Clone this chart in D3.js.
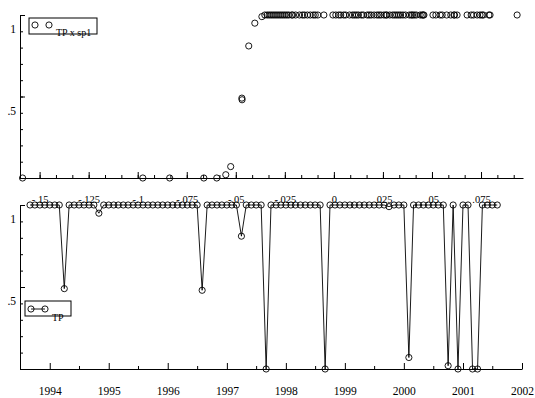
<!DOCTYPE html>
<html>
<head>
<meta charset="utf-8">
<script src="https://cdn.jsdelivr.net/npm/d3@7"></script>
<style>
  body { margin: 0; background: #fff; }
  text { font-family: "Liberation Serif", "Times New Roman", serif; fill: #000; }
</style>
</head>
<body>
<div id="chart"></div>
<script>
// monthly observations
const months = [
  "1993-09","1993-10","1993-11","1993-12",
  "1994-01","1994-02","1994-03","1994-04","1994-05","1994-06","1994-07","1994-08","1994-09","1994-10","1994-11","1994-12",
  "1995-01","1995-02","1995-03","1995-04","1995-05","1995-06","1995-07","1995-08","1995-09","1995-10","1995-11","1995-12",
  "1996-01","1996-02","1996-03","1996-04","1996-05","1996-06","1996-07","1996-08","1996-09","1996-10","1996-11","1996-12",
  "1997-01","1997-02","1997-03","1997-04","1997-05","1997-06","1997-07","1997-08","1997-09","1997-10","1997-11","1997-12",
  "1998-01","1998-02","1998-03","1998-04","1998-05","1998-06","1998-07","1998-08","1998-09","1998-10","1998-11","1998-12",
  "1999-01","1999-02","1999-03","1999-04","1999-05","1999-06","1999-07","1999-08","1999-09","1999-10","1999-11","1999-12",
  "2000-01","2000-02","2000-03","2000-04","2000-05","2000-06","2000-07","2000-08","2000-09","2000-10","2000-11","2000-12",
  "2001-01","2001-02","2001-03","2001-04","2001-05","2001-06","2001-07","2001-08"
];
const tp = [
  1, 1, 1, 1,
  1, 1, 1, 0.49, 1, 1, 1, 1, 1, 1, 0.95, 1,
  1, 1, 1, 1, 1, 1, 1, 1, 1, 1, 1, 1,
  1, 1, 1, 1, 1, 1, 1, 0.48, 1, 1, 1, 1,
  1, 1, 1, 0.81, 1, 1, 1, 1, 0, 1, 1, 1,
  1, 1, 1, 1, 1, 1, 1, 1, 0, 1, 1, 1,
  1, 1, 1, 1, 1, 1, 1, 1, 1, 0.99, 1, 1,
  1, 0.07, 1, 1, 1, 1, 1, 1, 1, 0.02, 1, 0,
  1, 1, 0, 0, 1, 1, 1, 1
];
const sp1 = [
  0.0934, 0.0790, 0.0745, 0.0712,
  0.0628, 0.0541, 0.0310, -0.0469, 0.0105, 0.0220, 0.0352, 0.0459, 0.0420, 0.0190, -0.0403, -0.0051,
  0.0080, 0.0270, 0.0401, 0.0505, 0.0596, 0.0679, 0.0730, 0.0796, 0.0762, 0.0612, 0.0552, 0.0440,
  0.0330, 0.0150, 0.0035, -0.0082, -0.0150, -0.0230, -0.0310, -0.0468, -0.0270, -0.0195, -0.0120, 0.0010,
  0.0125, 0.0060, -0.0105, -0.0434, -0.0352, -0.0290, -0.0330, -0.0250, -0.0974, -0.0340, -0.0210, -0.0175,
  -0.0135, -0.0095, 0.0170, 0.0240, 0.0285, 0.0050, -0.0215, -0.0300, -0.1587, -0.0320, -0.0260, -0.0160,
  -0.0005, 0.0095, 0.0205, 0.0255, 0.0300, 0.0365, 0.0385, 0.0410, 0.0340, -0.0367, 0.0230, 0.0140,
  -0.0240, -0.0526, -0.0280, 0.0025, 0.0115, 0.0320, 0.0450, 0.0520, 0.0575, -0.0551, 0.0615, -0.0837,
  0.0700, 0.0755, -0.0663, -0.0597, 0.0455, 0.0395, 0.0265, 0.0180
];

const spreadTicks = [-0.15, -0.125, -0.1, -0.075, -0.05, -0.025, 0, 0.025, 0.05, 0.075];
const spreadLabels = ["-.15", "-.125", "-.1", "-.075", "-.05", "-.025", "0", ".025", ".05", ".075"];
const yearTicks = [1994, 1995, 1996, 1997, 1998, 1999, 2000, 2001, 2002];
const probTicks = [0.5, 1];
const probLabels = [".5", "1"];

const W = 535, H = 398;
const R = 3.1;
const parseMonth = d3.timeParse("%Y-%m");
const data = months.map((m, i) => ({ date: parseMonth(m), tp: tp[i], sp1: sp1[i] }));

const svg = d3.select("#chart").append("svg")
  .attr("width", W).attr("height", H);

// scales
const xSpread = d3.scaleLinear().domain([-0.16, 0.0964]).range([20, 523]);
const yTop = d3.scaleLinear().domain([0, 1]).range([178, 15]);
const xDate = d3.scaleTime().domain([new Date(1993, 6, 1), new Date(2002, 0, 1)]).range([20, 522]);
const yBot = d3.scaleLinear().domain([0, 1]).range([369, 205]);

function styleAxis(g) {
  g.selectAll("path, line").attr("stroke", "#000").attr("stroke-width", 1);
}

// ---- top panel: TP x sp1 ----
const minorSpread = d3.range(0, 31).map(i => -0.15 + i * 0.025 / 3).filter(v => v < 0.0964);
svg.append("g").attr("transform", "translate(0,178)")
  .call(d3.axisBottom(xSpread).tickValues(minorSpread).tickSizeInner(-3).tickSizeOuter(0).tickFormat(""))
  .call(styleAxis);
const topX = svg.append("g").attr("transform", "translate(0,178)")
  .call(d3.axisBottom(xSpread).tickValues(spreadTicks).tickSizeInner(-6).tickSizeOuter(0)
    .tickFormat((d, i) => spreadLabels[i]))
  .call(styleAxis);
topX.select(".domain").remove();
topX.selectAll("text").attr("y", 25).attr("dy", null).attr("font-size", 10.5);

function yAxis(g, y) {
  g.call(d3.axisLeft(y).tickValues(d3.range(0, 11).map(i => i / 10)).tickSizeInner(-3).tickSizeOuter(0).tickFormat(""))
    .call(styleAxis);
}
function yLabels(g, y) {
  const ax = g.append("g").call(d3.axisLeft(y).tickValues(probTicks).tickSizeInner(-5).tickSizeOuter(0)
    .tickPadding(4).tickFormat((d, i) => probLabels[i]))
    .call(styleAxis);
  ax.select(".domain").remove();
  ax.selectAll("text").attr("y", 17.5).attr("dy", null).attr("font-size", 11.5);
}
const topY = svg.append("g").attr("transform", "translate(20,0)");
yAxis(topY, yTop);
yLabels(topY, yTop);

svg.append("g").selectAll("circle").data(data).join("circle")
  .attr("cx", d => xSpread(d.sp1)).attr("cy", d => yTop(d.tp)).attr("r", R)
  .attr("fill", "none").attr("stroke", "#000").attr("stroke-width", 0.9);

// top legend
const lg1 = svg.append("g");
lg1.append("rect").attr("x", 29).attr("y", 18).attr("width", 68).attr("height", 16)
  .attr("fill", "none").attr("stroke", "#000");
lg1.selectAll("circle").data([35, 49]).join("circle")
  .attr("cx", d => d).attr("cy", 25).attr("r", R)
  .attr("fill", "none").attr("stroke", "#000").attr("stroke-width", 0.9);
lg1.append("text").attr("x", 56).attr("y", 36).attr("font-size", 10).text("TP x sp1");

// ---- bottom panel: TP over time ----
const halfYears = yearTicks.map(y => new Date(y - 1, 6, 1)).filter(d => d > xDate.domain()[0]);
svg.append("g").attr("transform", "translate(0,369)")
  .call(d3.axisBottom(xDate).tickValues(halfYears).tickSizeInner(-3).tickSizeOuter(0).tickFormat(""))
  .call(styleAxis);
const botX = svg.append("g").attr("transform", "translate(0,369)")
  .call(d3.axisBottom(xDate).tickValues(yearTicks.map(y => new Date(y, 0, 1))).tickSizeInner(-6).tickSizeOuter(0)
    .tickFormat(d3.timeFormat("%Y")))
  .call(styleAxis);
botX.select(".domain").remove();
botX.selectAll("text").attr("y", 26).attr("dy", null).attr("font-size", 11.5);

const botY = svg.append("g").attr("transform", "translate(20,0)");
yAxis(botY, yBot);
yLabels(botY, yBot);

svg.append("path").datum(data)
  .attr("d", d3.line().x(d => xDate(d.date)).y(d => yBot(d.tp)))
  .attr("fill", "none").attr("stroke", "#000").attr("stroke-width", 0.9);
svg.append("g").selectAll("circle").data(data).join("circle")
  .attr("cx", d => xDate(d.date)).attr("cy", d => yBot(d.tp)).attr("r", R)
  .attr("fill", "none").attr("stroke", "#000").attr("stroke-width", 0.9);

// bottom legend
const lg2 = svg.append("g");
lg2.append("rect").attr("x", 25).attr("y", 301).attr("width", 46).attr("height", 15)
  .attr("fill", "none").attr("stroke", "#000");
lg2.append("line").attr("x1", 31).attr("x2", 45).attr("y1", 309).attr("y2", 309).attr("stroke", "#000").attr("stroke-width", 0.9);
lg2.selectAll("circle").data([31, 45]).join("circle")
  .attr("cx", d => d).attr("cy", 309).attr("r", R)
  .attr("fill", "none").attr("stroke", "#000").attr("stroke-width", 0.9);
lg2.append("text").attr("x", 52).attr("y", 321).attr("font-size", 10).text("TP");
</script>
</body>
</html>
